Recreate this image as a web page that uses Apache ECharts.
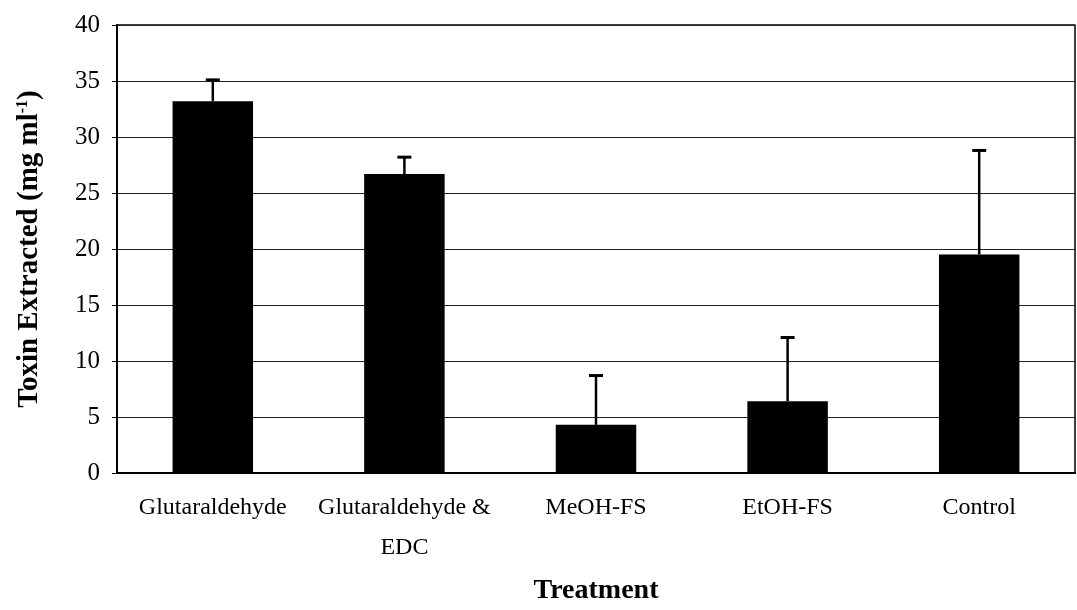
<!DOCTYPE html>
<html>
<head>
<meta charset="utf-8">
<script src="https://cdn.jsdelivr.net/npm/echarts@6/dist/echarts.min.js"></script>
<style>
  html, body { margin: 0; padding: 0; background: #fff; }
  #chart { width: 1077px; height: 610px; }
</style>
</head>
<body>
<div id="chart"></div>
<script>
// categories and values
const TREATMENTS = ['Glutaraldehyde', 'Glutaraldehyde &\nEDC', 'MeOH-FS', 'EtOH-FS', 'Control']
const MEANS  = [33.2, 26.7, 4.3, 6.4, 19.5]
const ERRORS = [1.9, 1.5, 4.4, 5.7, 9.3]   // upper error only
const Y_TICKS = [0, 5, 10, 15, 20, 25, 30, 35, 40]

const SERIF = '"Liberation Serif", "DejaVu Serif", serif'

const chart = echarts.init(document.getElementById('chart'))

chart.setOption({
  backgroundColor: '#fff',
  animation: false,
  grid: {
    left: 117, right: 2, top: 25, bottom: 136,
    show: true, borderColor: '#000', borderWidth: 1.5, backgroundColor: 'transparent',
  },
  xAxis: {
    type: 'category',
    data: TREATMENTS,
    name: 'Treatment',
    nameLocation: 'middle',
    nameGap: 104,
    nameTextStyle: { fontFamily: SERIF, fontSize: 28, fontWeight: 'bold', color: '#000' },
    axisLine: { lineStyle: { color: '#000', width: 2 } },
    axisTick: { show: false },
    axisLabel: {
      interval: 0, hideOverlap: false,
      fontFamily: SERIF, fontSize: 24, color: '#000', margin: 15, lineHeight: 40,
    },
  },
  yAxis: {
    type: 'value',
    min: Y_TICKS[0],
    max: Y_TICKS[Y_TICKS.length - 1],
    interval: 5,
    name: '{t|Toxin Extracted (mg ml}{s|-1}{t|)}',
    nameLocation: 'middle',
    nameGap: 73,
    nameTextStyle: {
      rich: {
        t: { fontFamily: SERIF, fontSize: 29, fontWeight: 'bold', color: '#000' },
        s: { fontFamily: SERIF, fontSize: 16, fontWeight: 'bold', color: '#000', verticalAlign: 'top', padding: [0, 0, 10, 0] },
      },
    },
    axisLine: { show: true, lineStyle: { color: '#000', width: 2 } },
    axisTick: { show: true, length: 5, lineStyle: { color: '#000' } },
    axisLabel: { fontFamily: SERIF, fontSize: 25, color: '#000', margin: 17 },
    splitLine: { lineStyle: { color: '#222', width: 1 } },
  },
  series: [
    {
      type: 'bar',
      data: MEANS,
      barWidth: '42%',
      itemStyle: { color: '#000' },
    },
    {
      type: 'custom',
      data: MEANS.map((m, i) => [i, m, m + ERRORS[i]]),
      z: 5,
      renderItem: (params, api) => {
        const base = api.coord([api.value(0), api.value(1)])
        const top = api.coord([api.value(0), api.value(2)])
        const half = 7
        const style = { stroke: '#000', lineWidth: 2.5 }
        return {
          type: 'group',
          children: [
            { type: 'line', shape: { x1: base[0], y1: base[1], x2: top[0], y2: top[1] }, style },
            { type: 'line', shape: { x1: top[0] - half, y1: top[1], x2: top[0] + half, y2: top[1] }, style: { stroke: '#000', lineWidth: 3 } },
          ],
        }
      },
    },
  ],
})
</script>
</body>
</html>
